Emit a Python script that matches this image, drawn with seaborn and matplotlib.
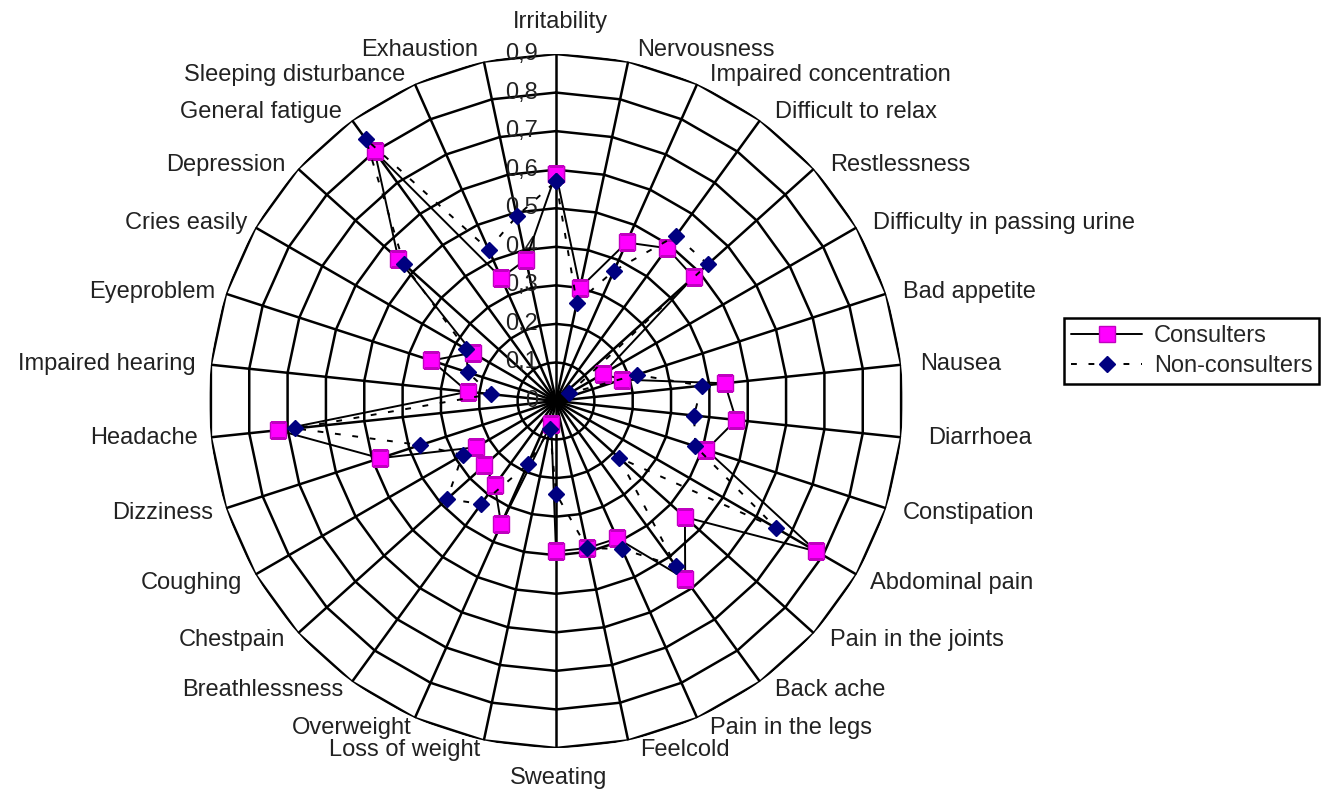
import numpy as np
import pandas as pd
import matplotlib
matplotlib.use("Agg")
import matplotlib.pyplot as plt
from matplotlib.lines import Line2D
import seaborn as sns

# symptoms, clockwise from the top
categories = ["Irritability", "Nervousness", "Impaired concentration",
              "Difficult to relax", "Restlessness", "Difficulty in passing urine",
              "Bad appetite", "Nausea", "Diarrhoea", "Constipation",
              "Abdominal pain", "Pain in the joints", "Back ache",
              "Pain in the legs", "Feelcold", "Sweating", "Loss of weight",
              "Overweight", "Breathlessness", "Chestpain", "Coughing",
              "Dizziness", "Headache", "Impaired hearing", "Eyeproblem",
              "Cries easily", "Depression", "General fatigue",
              "Sleeping disturbance", "Exhaustion"]

consulters = [0.59, 0.30, 0.45, 0.49, 0.48, 0.14, 0.18, 0.44, 0.47, 0.41,
              0.78, 0.45, 0.57, 0.39, 0.39, 0.39, 0.06, 0.35, 0.27, 0.25,
              0.24, 0.48, 0.725, 0.23, 0.34, 0.25, 0.55, 0.80, 0.35, 0.375]

non_consulters = [0.57, 0.26, 0.37, 0.53, 0.53, 0.04, 0.22, 0.38, 0.36, 0.38,
                  0.66, 0.22, 0.53, 0.42, 0.39, 0.24, 0.075, 0.18, 0.33, 0.38,
                  0.28, 0.37, 0.68, 0.17, 0.24, 0.27, 0.53, 0.84, 0.43, 0.49]

ring_values = [0, 0.1, 0.2, 0.3, 0.4, 0.5, 0.6, 0.7, 0.8, 0.9]
ring_labels = ["0", "0,1", "0,2", "0,3", "0,4", "0,5", "0,6", "0,7", "0,8", "0,9"]

series_names = ["Consulters", "Non-consulters"]

# where Excel put each category label (alignment, x px, y px)
label_places = [("center", 560, 22), ("left", 637, 50), ("left", 710, 75),
                ("left", 775, 112), ("left", 830, 165), ("left", 873, 223),
                ("left", 903, 292), ("left", 920, 364), ("left", 928, 438),
                ("left", 903, 513), ("left", 870, 583), ("left", 830, 640),
                ("left", 775, 690), ("left", 710, 728), ("left", 640, 750),
                ("center", 559, 778), ("right", 480, 750), ("right", 412, 728),
                ("right", 343, 690), ("right", 285, 640), ("right", 242, 583),
                ("right", 213, 513), ("right", 198, 438), ("right", 196, 364),
                ("right", 215, 292), ("right", 247, 223), ("right", 285, 165),
                ("right", 342, 112), ("right", 405, 75), ("right", 478, 50)]

W, H = 1328, 790
PINK, PINK_EDGE = "#FF00FF", "#C000C0"
NAVY = "#000080"
TXT = "#222222"
FS = 17

sns.set_theme(style="white")
plt.rcParams["font.family"] = ["Liberation Sans", "DejaVu Sans"]

fig = plt.figure(figsize=(W / 100, H / 100), dpi=100)
cx, cy, R = 556, 401, 347
ax = fig.add_axes([(cx - R) / W, (H - cy - R) / H, 2 * R / W, 2 * R / H],
                  projection="polar")
ax.set_theta_zero_location("N")
ax.set_theta_direction(-1)

n = len(categories)
theta = np.linspace(0, 2 * np.pi, n, endpoint=False)
theta_closed = np.append(theta, 2 * np.pi)

# polygon grid like the Excel radar
for r in ring_values[1:]:
    ax.plot(theta_closed, np.full(n + 1, r), color="black", lw=1.8, zorder=1)
for t in theta:
    ax.plot([t, t], [0, ring_values[-1]], color="black", lw=1.8, zorder=1)

df = pd.DataFrame({
    "theta": np.concatenate([theta_closed, theta_closed]),
    "value": consulters + consulters[:1] + non_consulters + non_consulters[:1],
    "series": [series_names[0]] * (n + 1) + [series_names[1]] * (n + 1),
})

sns.lineplot(data=df[df.series == "Consulters"], x="theta", y="value",
             sort=False, estimator=None, ax=ax, color="black", lw=1.4,
             marker="s", markersize=11, markerfacecolor=PINK,
             markeredgecolor=PINK_EDGE, markeredgewidth=1, zorder=3)
sns.lineplot(data=df[df.series == "Non-consulters"], x="theta", y="value",
             sort=False, estimator=None, ax=ax, color="black", lw=1.4,
             dashes=(3, 6), marker="D", markersize=8, markerfacecolor=NAVY,
             markeredgecolor=NAVY, markeredgewidth=1, zorder=4)

ax.set_ylim(0, 0.9)
ax.set_xticks([])
ax.set_yticks([])
ax.grid(False)
ax.spines["polar"].set_visible(False)
ax.set_xlabel("")
ax.set_ylabel("")
ax.set_facecolor("none")

for v, lab in zip(ring_values, ring_labels):
    ax.annotate(lab, xy=(0, v), xytext=(-13, 0), textcoords="offset points",
                ha="right", va="center", fontsize=FS, color=TXT, zorder=2)

for name, (ha, px, py) in zip(categories, label_places):
    fig.text(px / W, 1 - py / H, name, ha=ha, va="center", fontsize=FS, color=TXT)

handles = [
    Line2D([], [], color="black", lw=1.4, marker="s", markersize=11,
           markerfacecolor=PINK, markeredgecolor=PINK_EDGE),
    Line2D([], [], color="black", lw=1.4, dashes=(3, 6), marker="D",
           markersize=8, markerfacecolor=NAVY, markeredgecolor=NAVY),
]
leg = fig.legend(handles, series_names, loc="upper left",
                 bbox_to_anchor=(1064 / W, 1 - 318 / H), frameon=True,
                 fancybox=False, edgecolor="black", framealpha=1, fontsize=FS,
                 handlelength=3.0, borderpad=0.3, labelspacing=0.35,
                 handletextpad=0.5, borderaxespad=0)
leg.get_frame().set_linewidth(1.8)

fig.savefig("out.png", dpi=100)
